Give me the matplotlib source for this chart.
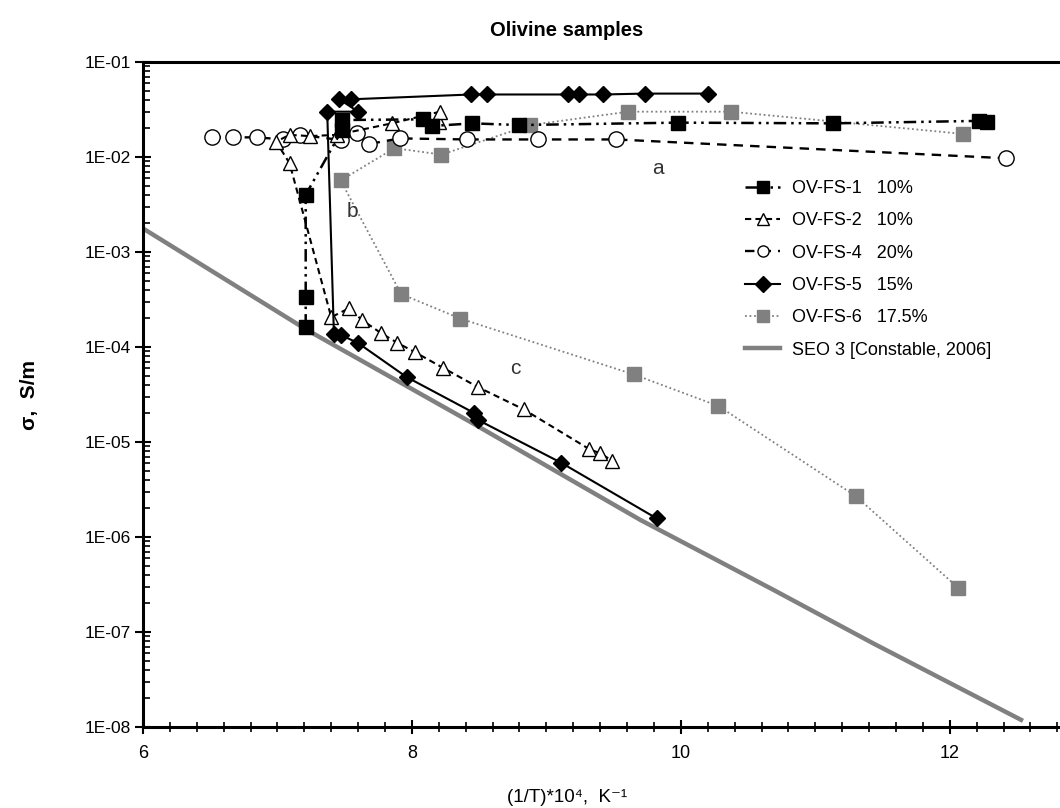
import matplotlib
matplotlib.use("Agg")
import matplotlib.pyplot as plt
from matplotlib.ticker import MultipleLocator, LogLocator, FixedLocator, NullFormatter

plt.rcParams['font.family'] = ['Liberation Sans', 'DejaVu Sans']

# OV-FS-1 10%
x_fs1 = [7.21, 7.21, 7.21, 7.48, 7.48, 8.08, 8.15, 8.45, 8.80, 9.98, 11.13, 12.22, 12.28]
s_fs1 = [1.64e-4, 3.4e-4, 4.0e-3, 1.92e-2, 2.45e-2, 2.49e-2, 2.12e-2, 2.26e-2, 2.17e-2,
         2.30e-2, 2.26e-2, 2.40e-2, 2.36e-2]

# OV-FS-2 10%
x_fs2 = [8.20, 8.21, 7.85, 7.44, 7.24, 7.09, 6.99, 7.09, 7.40, 7.53, 7.63, 7.77, 7.89,
         8.02, 8.23, 8.49, 8.83, 9.32, 9.40, 9.49]
s_fs2 = [2.35e-2, 3.0e-2, 2.26e-2, 1.71e-2, 1.66e-2, 1.71e-2, 1.45e-2, 8.6e-3, 2.06e-4,
         2.55e-4, 1.92e-4, 1.40e-4, 1.11e-4, 8.86e-5, 6.05e-5, 3.79e-5, 2.21e-5, 8.4e-6,
         7.6e-6, 6.35e-6]

# OV-FS-4 20%
x_fs4 = [6.51, 6.67, 6.85, 7.04, 7.17, 7.47, 7.59, 7.68, 7.91, 8.41, 8.94, 9.52, 12.42]
s_fs4 = [1.61e-2, 1.61e-2, 1.61e-2, 1.53e-2, 1.71e-2, 1.51e-2, 1.77e-2, 1.37e-2, 1.57e-2,
         1.53e-2, 1.53e-2, 1.53e-2, 9.7e-3]

# OV-FS-5 15%
x_fs5 = [9.82, 9.11, 8.49, 8.46, 7.96, 7.60, 7.47, 7.42, 7.37, 7.60, 7.46, 7.55, 8.44,
         8.56, 9.16, 9.24, 9.42, 9.73, 10.20]
s_fs5 = [1.57e-6, 6.05e-6, 1.71e-5, 2.03e-5, 4.83e-5, 1.10e-4, 1.34e-4, 1.36e-4, 3.0e-2,
         3.0e-2, 4.05e-2, 4.05e-2, 4.55e-2, 4.55e-2, 4.55e-2, 4.55e-2, 4.55e-2, 4.65e-2,
         4.65e-2]

# OV-FS-6 17.5%
x_fs6 = [12.10, 10.37, 9.61, 8.88, 8.22, 7.87, 7.47, 7.92, 8.36, 9.65, 10.28, 11.30, 12.06]
s_fs6 = [1.75e-2, 3.0e-2, 3.0e-2, 2.17e-2, 1.06e-2, 1.24e-2, 5.66e-3, 3.61e-4, 1.99e-4,
         5.14e-5, 2.39e-5, 2.70e-6, 2.94e-7]

# SEO3 [Constable, 2006]
x_seo = [6.00, 7.22, 8.43, 9.70, 10.69, 11.43, 12.53]
s_seo = [1.77e-3, 1.51e-4, 1.64e-5, 1.51e-6, 2.77e-7, 7.6e-8, 1.19e-8]

labels = ["OV-FS-1   10%", "OV-FS-2   10%", "OV-FS-4   20%", "OV-FS-5   15%",
          "OV-FS-6   17.5%", "SEO 3 [Constable, 2006]"]
ytick_vals = [1e-1, 1e-2, 1e-3, 1e-4, 1e-5, 1e-6, 1e-7, 1e-8]
ytick_text = ["1E-01", "1E-02", "1E-03", "1E-04", "1E-05", "1E-06", "1E-07", "1E-08"]

fig = plt.figure(figsize=(10.6, 8.08), dpi=100)
ax = fig.add_axes([143 / 1060, 1 - 727 / 808, 1 - 143 / 1060, (727 - 62) / 808])

gray = '#808080'
ax.plot(x_fs1, s_fs1, color='black', lw=1.8, ls=(0, (5, 2, 1, 2, 1, 2)),
        marker='s', ms=10, mfc='black', mec='black', label=labels[0], zorder=5)
ax.plot(x_fs2, s_fs2, color='black', lw=1.5, ls=(0, (3, 2)),
        marker='^', ms=10, mfc='white', mec='black', mew=1.0, label=labels[1], zorder=4)
ax.plot(x_fs4, s_fs4, color='black', lw=1.7, ls=(0, (4, 3)),
        marker='o', ms=11, mfc='white', mec='black', mew=1.0, label=labels[2], zorder=3)
ax.plot(x_fs5, s_fs5, color='black', lw=1.5, ls='-',
        marker='D', ms=8.5, mfc='black', mec='black', label=labels[3], zorder=6)
ax.plot(x_fs6, s_fs6, color=gray, lw=1.3, ls=(0, (1, 1.5)),
        marker='s', ms=10, mfc=gray, mec=gray, label=labels[4], zorder=2)
ax.plot(x_seo, s_seo, color=gray, lw=3.2, ls='-', label=labels[5], zorder=1)

ax.set_yscale('log')
ax.set_xlim(6, 12.82)
ax.set_ylim(1e-8, 1e-1)

ax.xaxis.set_major_locator(MultipleLocator(2))
ax.xaxis.set_minor_locator(MultipleLocator(0.2))
ax.yaxis.set_major_locator(FixedLocator(ytick_vals))
ax.set_yticklabels(ytick_text)
ax.yaxis.set_minor_locator(LogLocator(base=10, subs=range(2, 10), numticks=20))
ax.yaxis.set_minor_formatter(NullFormatter())

ax.tick_params(axis='x', which='major', direction='inout', length=10, width=1.5,
               labelsize=13, pad=8)
ax.tick_params(axis='x', which='minor', direction='inout', length=7, width=1.2)
ax.tick_params(axis='y', which='major', direction='inout', length=12, width=1.5,
               labelsize=12.5, pad=3)
ax.tick_params(axis='y', which='minor', direction='in', length=5, width=1.2)

for side in ['left', 'bottom', 'top']:
    ax.spines[side].set_linewidth(2.2)
ax.spines['right'].set_visible(False)

ax.text(9.83, 7.6e-3, "a", fontsize=15, ha='center', va='center', color='#333333')
ax.text(7.56, 2.64e-3, "b", fontsize=15, ha='center', va='center', color='#333333')
ax.text(8.77, 6.0e-5, "c", fontsize=15, ha='center', va='center', color='#333333')

leg = ax.legend(loc='upper left', bbox_to_anchor=(745 / 1060, 1 - 180 / 808),
                bbox_transform=fig.transFigure, frameon=False, numpoints=1,
                fontsize=13, handlelength=1.95, handletextpad=0.65,
                labelspacing=0.85, borderpad=0, borderaxespad=0)
for h in leg.legend_handles:
    h.set_markersize(8)

fig.text(0.535, 1 - 30 / 808, "Olivine samples", fontsize=14.5, fontweight='bold',
         ha='center', va='center')
fig.text(0.535, 1 - 797 / 808, "(1/T)*10\u2074,  K\u207b\u00b9", fontsize=13.5,
         ha='center', va='center')
fig.text(30 / 1060, 1 - 395 / 808, "\u03c3,  S/m", fontsize=15, fontweight='bold',
         rotation=90, ha='center', va='center')

fig.savefig("out.png", dpi=100)
